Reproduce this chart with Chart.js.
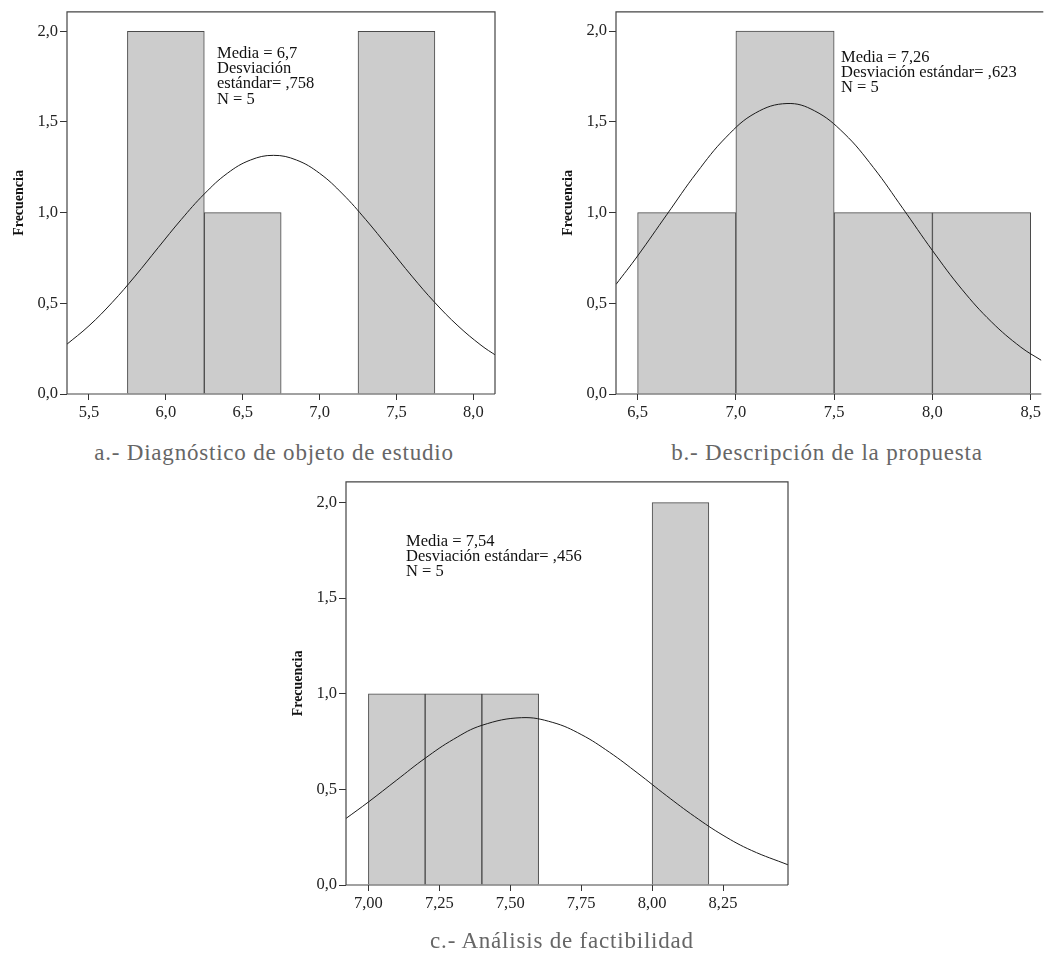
<!DOCTYPE html>
<html>
<head>
<meta charset="utf-8">
<script src="https://cdn.jsdelivr.net/npm/chart.js@4.4.1/dist/chart.umd.min.js"></script>
<style>
  body { margin: 0; background: #fff; width: 1044px; height: 955px; position: relative; overflow: hidden; font-family: "Liberation Serif", serif; }
  canvas { position: absolute; }
  .stats { position: absolute; font-size: 16.5px; line-height: 15.2px; color: #111; white-space: pre; }
  .caption { position: absolute; width: 420px; text-align: center; font-size: 23px; line-height: 23px; letter-spacing: 0.8px; color: #666; white-space: nowrap; }
</style>
</head>
<body>
<canvas id="chartA" width="500" height="440" style="left:0;top:0"></canvas>
<canvas id="chartB" width="495" height="440" style="left:549px;top:0"></canvas>
<canvas id="chartC" width="514" height="461" style="left:279px;top:470px"></canvas>

<div class="stats" style="left:217px;top:45px">Media = 6,7
Desviación
estándar= ,758
N = 5</div>
<div class="stats" style="left:841px;top:49px">Media = 7,26
Desviación estándar= ,623
N = 5</div>
<div class="stats" style="left:406px;top:533px">Media = 7,54
Desviación estándar= ,456
N = 5</div>

<div class="caption" style="left:64px;top:441px">a.- Diagnóstico de objeto de estudio</div>
<div class="caption" style="left:617px;top:441px">b.- Descripción de la propuesta</div>
<div class="caption" style="left:352px;top:929px">c.- Análisis de factibilidad</div>

<script>
// a.- Diagnóstico de objeto de estudio
const binsA = [6.0, 6.5, 7.5];
const countsA = [2, 1, 2];
const curveXA = [5.35, 5.5, 5.65, 5.8, 5.95, 6.1, 6.25, 6.4, 6.55, 6.7, 6.85, 7.0, 7.15, 7.3, 7.45, 7.6, 7.75, 7.9, 8.05, 8.15];
const curveYA = [0.27, 0.376, 0.504, 0.65, 0.807, 0.962, 1.103, 1.217, 1.29, 1.316, 1.29, 1.217, 1.103, 0.962, 0.807, 0.65, 0.504, 0.376, 0.269, 0.211];
const xTicksA = [5.5, 6.0, 6.5, 7.0, 7.5, 8.0];

// b.- Descripción de la propuesta
const binsB = [6.75, 7.25, 7.75, 8.25];
const countsB = [1, 2, 1, 1];
const curveXB = [6.39, 6.5, 6.65, 6.8, 6.95, 7.1, 7.26, 7.4, 7.55, 7.7, 7.85, 8.0, 8.15, 8.3, 8.45, 8.555];
const curveYB = [0.604, 0.761, 0.991, 1.219, 1.415, 1.549, 1.601, 1.561, 1.437, 1.248, 1.022, 0.791, 0.577, 0.398, 0.258, 0.185];
const xTicksB = [6.5, 7.0, 7.5, 8.0, 8.5];

// c.- Análisis de factibilidad
const binsC = [7.1, 7.3, 7.5, 8.1];
const countsC = [1, 1, 1, 2];
const curveXC = [6.92, 7.0, 7.1, 7.2, 7.3, 7.4, 7.54, 7.65, 7.75, 7.85, 7.95, 8.05, 8.15, 8.25, 8.35, 8.48];
const curveYC = [0.347, 0.434, 0.549, 0.663, 0.762, 0.835, 0.875, 0.85, 0.787, 0.694, 0.584, 0.468, 0.358, 0.26, 0.181, 0.105];
const xTicksC = [7.0, 7.25, 7.5, 7.75, 8.0, 8.25];

const yTicks = [0, 0.5, 1.0, 1.5, 2.0];

const serif = "'Liberation Serif', 'Times New Roman', serif";

const framePlugin = {
  id: "frame",
  afterDatasetsDraw(chart, args, opts) {
    const { ctx, chartArea: a } = chart;
    ctx.save();
    ctx.strokeStyle = "#444";
    ctx.lineWidth = 1.2;
    ctx.beginPath();
    if (opts.right !== false) {
      ctx.moveTo(a.right, a.bottom);
      ctx.lineTo(a.right, a.top);
    } else {
      ctx.moveTo(a.right + 2, a.top);
    }
    ctx.lineTo(a.left, a.top);
    ctx.lineTo(a.left, a.bottom);
    ctx.lineTo(a.right, a.bottom);
    ctx.stroke();
    ctx.restore();
  },
};

function comma(value, decimals) {
  return value.toFixed(decimals).replace(".", ",");
}

function makeHistogram(id, cfg) {
  return new Chart(document.getElementById(id), {
    data: {
      datasets: [
        {
          type: "line",
          data: cfg.curveX.map((x, i) => ({ x, y: cfg.curveY[i] })),
          borderColor: "#1a1a1a",
          borderWidth: 1,
          pointRadius: 0,
          tension: 0.4,
          order: 0,
        },
        {
          type: "bar",
          data: cfg.bins.map((x, i) => ({ x, y: cfg.counts[i] })),
          backgroundColor: "#cccccc",
          borderColor: "#4a4a4a",
          borderWidth: 1,
          barPercentage: 1,
          categoryPercentage: 1,
          order: 1,
        },
      ],
    },
    options: {
      responsive: false,
      animation: false,
      events: [],
      layout: { padding: { left: 0, top: cfg.padTop, right: cfg.padRight, bottom: 16 } },
      plugins: {
        legend: { display: false },
        tooltip: { enabled: false },
        frame: { right: cfg.frameRight },
      },
      scales: {
        x: {
          type: "linear",
          offset: false,
          min: cfg.xMin,
          max: cfg.xMax,
          afterBuildTicks: (scale) => { scale.ticks = cfg.xTicks.map((v) => ({ value: v })); },
          afterFit: (scale) => { scale.height = 30; },
          grid: { offset: false, drawOnChartArea: false, drawTicks: true, tickLength: 6, color: "#333" },
          border: { display: false },
          ticks: {
            padding: 3,
            color: "#222",
            autoSkip: false,
            maxRotation: 0,
            font: { family: serif, size: 16.5 },
            callback: (v) => comma(v, cfg.xDecimals),
          },
        },
        y: {
          min: 0,
          max: cfg.yMax,
          afterBuildTicks: (scale) => { scale.ticks = yTicks.map((v) => ({ value: v })); },
          afterFit: (scale) => { scale.width = 67; },
          grid: { drawOnChartArea: false, drawTicks: true, tickLength: 7, color: "#333" },
          border: { display: false },
          ticks: {
            padding: 2,
            color: "#222",
            font: { family: serif, size: 16.5 },
            callback: (v) => comma(v, 1),
          },
          title: {
            display: true,
            text: "Frecuencia",
            color: "#111",
            padding: { top: 10.5, bottom: 0 },
            font: { family: serif, size: 14, weight: "bold" },
          },
        },
      },
    },
    plugins: [framePlugin],
  });
}

makeHistogram("chartA", {
  bins: binsA, counts: countsA, curveX: curveXA, curveY: curveYA, xTicks: xTicksA,
  xMin: 5.357, xMax: 8.141, yMax: 2.107, xDecimals: 1, padTop: 11, padRight: 5, frameRight: true,
});

makeHistogram("chartB", {
  bins: binsB, counts: countsB, curveX: curveXB, curveY: curveYB, xTicks: xTicksB,
  xMin: 6.39, xMax: 8.554, yMax: 2.106, xDecimals: 1, padTop: 5, padRight: 0, frameRight: false,
});

makeHistogram("chartC", {
  bins: binsC, counts: countsC, curveX: curveXC, curveY: curveYC, xTicks: xTicksC,
  xMin: 6.921, xMax: 8.479, yMax: 2.108, xDecimals: 2, padTop: 9, padRight: 5, frameRight: true,
});
</script>
</body>
</html>
